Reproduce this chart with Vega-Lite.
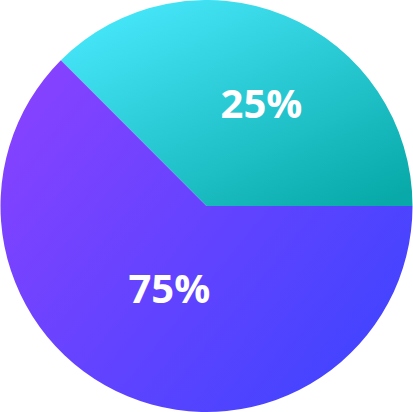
{
  "$schema": "https://vega.github.io/schema/vega-lite/v6.json",
  "width": 413,
  "height": 412,
  "padding": 0,
  "autosize": {"type": "fit", "contains": "padding"},
  "background": "white",
  "view": {"stroke": null},
  "data": {
    "values": [
      {"cat": "A", "value": 37.5, "label": "25%", "order": 1},
      {"cat": "B", "value": 62.5, "label": "75%", "order": 2}
    ]
  },
  "encoding": {
    "theta": {"field": "value", "type": "quantitative", "stack": true, "scale": {"range": [-0.7854, 5.4978]}},
    "order": {"field": "order", "type": "quantitative"}
  },
  "layer": [
    {
      "mark": {"type": "arc", "outerRadius": 206, "stroke": null},
      "encoding": {
        "fill": {
          "condition": {
            "test": "datum.cat === 'A'",
            "value": {"gradient": "linear", "x1": 0.1, "y1": 0, "x2": 0.9, "y2": 1, "stops": [{"offset": 0, "color": "#4aeaff"}, {"offset": 1, "color": "#08a9a8"}]}
          },
          "value": {"gradient": "linear", "x1": 0, "y1": 0.2, "x2": 1, "y2": 0.9, "stops": [{"offset": 0, "color": "#8542ff"}, {"offset": 1, "color": "#3c44ff"}]}
        }
      }
    },
    {
      "mark": {"type": "text", "radius": 115, "dx": 11, "dy": 6, "font": "Open Sans", "fontWeight": "bold", "fontSize": 40, "fill": "white", "align": "center", "baseline": "middle"},
      "encoding": {
        "text": {"condition": {"test": "datum.cat === 'A'", "field": "label"}, "value": ""}
      }
    },
    {
      "mark": {"type": "text", "radius": 92, "dx": -2, "dy": 0, "font": "Open Sans", "fontWeight": "bold", "fontSize": 40, "fill": "white", "align": "center", "baseline": "middle"},
      "encoding": {
        "text": {"condition": {"test": "datum.cat === 'B'", "field": "label"}, "value": ""}
      }
    }
  ]
}
